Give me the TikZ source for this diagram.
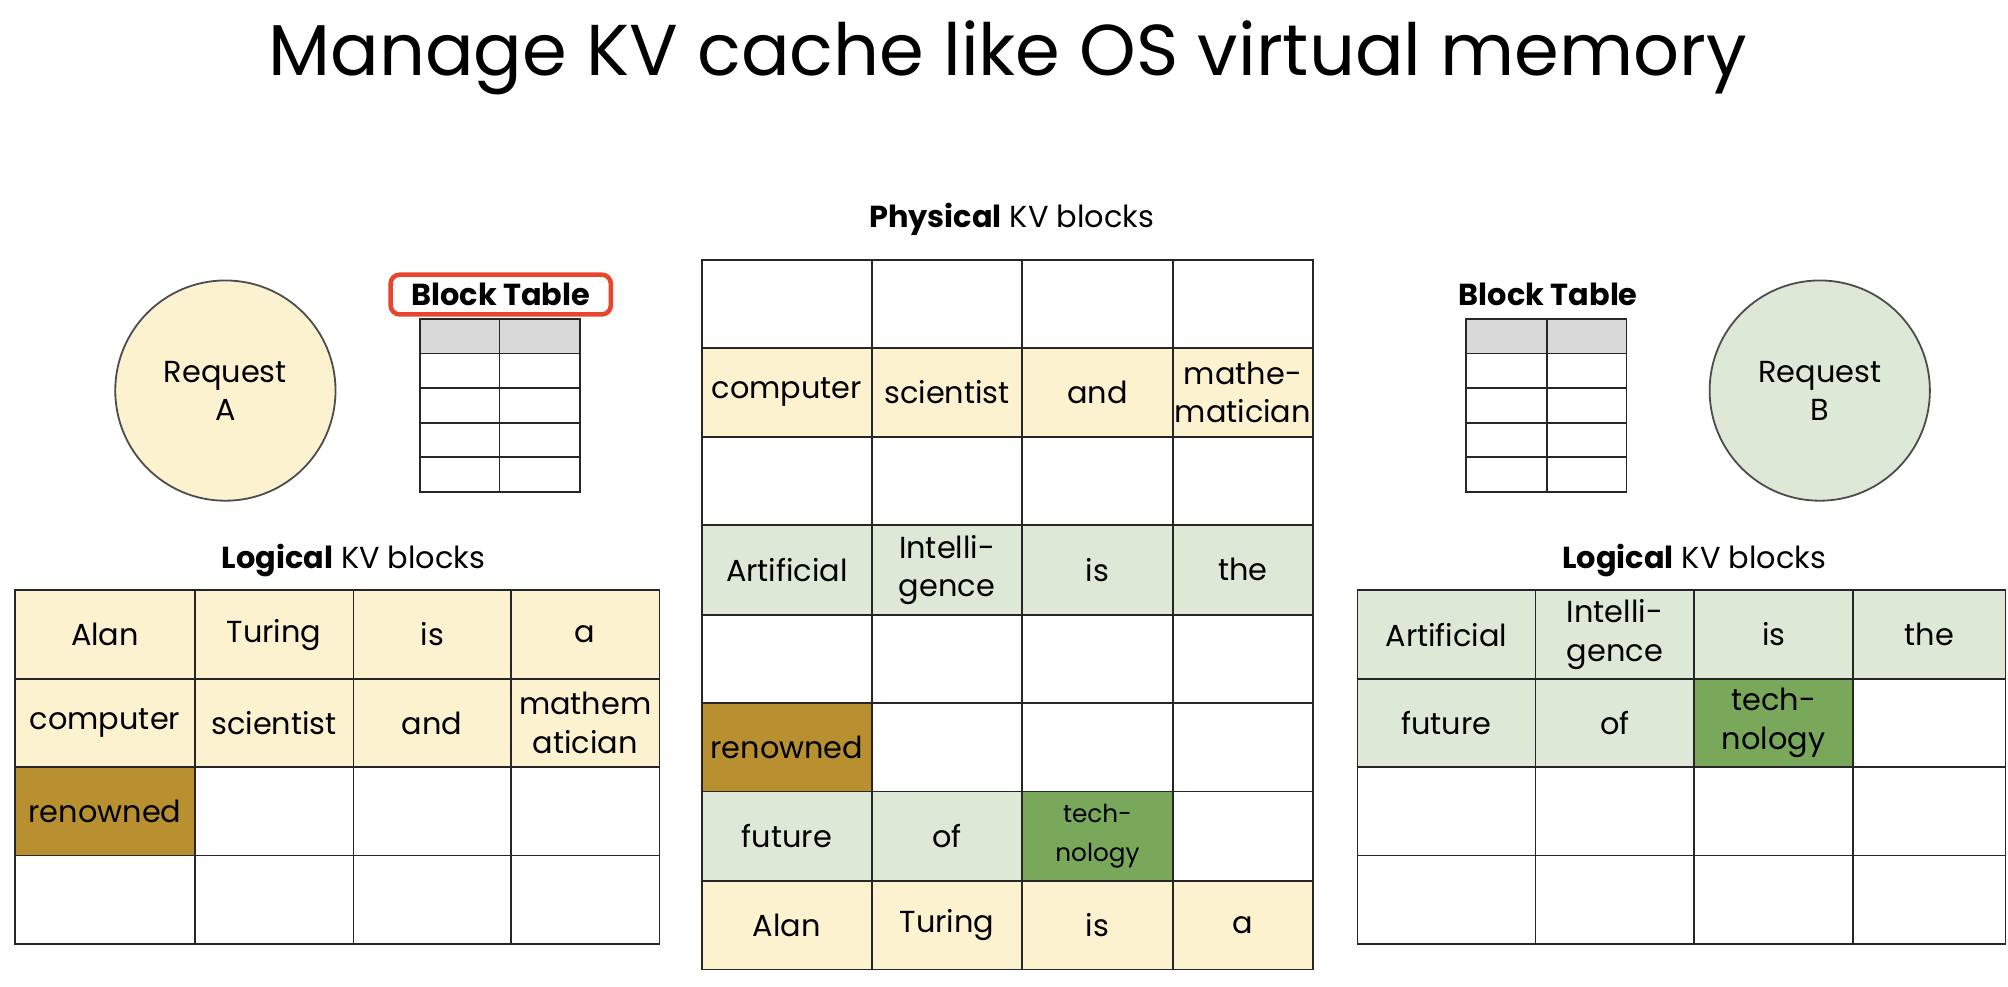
\documentclass[tikz,border=0pt]{standalone}
\usepackage{fontspec}
\setmainfont{Poppins}
\definecolor{tokA}{HTML}{FCF2D0}
\definecolor{tokB}{HTML}{DDE8D6}
\definecolor{tokAnew}{HTML}{B8902F}
\definecolor{tokBnew}{HTML}{79A85B}
\definecolor{hdrgray}{HTML}{D9D9D9}
\definecolor{markred}{HTML}{E8452C}
\newcommand\cellfont{\fontsize{13.5}{17}\selectfont}
\newcommand\smallcell{\fontsize{11}{14}\selectfont}
% one row of cells: prefix, top, bottom, list of left/right/text/fill
\newcommand\kvrow[4]{%
  \foreach \xa/\xb/\t/\f [count=\i] in {#4}
    \node[cell, fill=\f, minimum width={(\xb-\xa)*0.02cm}, minimum height={(#3-#2)*0.02cm}]
      (#1-\i) at ({(\xa+\xb)/2},{(#2+#3)/2}) {\t};}
\begin{document}
\begin{tikzpicture}[x=0.02cm, y=-0.02cm]
    \tikzset{cell/.style={draw=black!85, line width=0.8pt, inner sep=0pt, align=center, font=\cellfont}}
    \tikzset{label/.style={font=\cellfont}}
    \tikzset{request/.style={circle, draw=black!70, line width=0.8pt, minimum size=172*0.02cm, align=center, font=\cellfont}}
    \tikzset{slot/.style={draw=black!85, line width=0.8pt, minimum width=62*0.02cm, minimum height=27*0.02cm, inner sep=0pt}}
    \useasboundingbox (0,0) rectangle (1568,770);

% title
    \node[font=\fontsize{32}{38}\selectfont] (title) at (787,45) {Manage KV cache like OS virtual memory};

% physical KV blocks
    \node[label] (phys) at (790,171) {\textbf{Physical} KV blocks};
    \kvrow{p0}{203}{272}{548/681/{}/white, 681/798/{}/white, 798/916/{}/white, 916/1025/{}/white}
    \kvrow{p1}{272}{341}{548/681/computer/tokA, 681/798/scientist/tokA, 798/916/and/tokA, 916/1025/{mathe-\\matician}/tokA}
    \kvrow{p2}{341}{410}{548/681/{}/white, 681/798/{}/white, 798/916/{}/white, 916/1025/{}/white}
    \kvrow{p3}{410}{480}{548/681/Artificial/tokB, 681/798/{Intelli-\\gence}/tokB, 798/916/is/tokB, 916/1025/the/tokB}
    \kvrow{p4}{480}{549}{548/681/{}/white, 681/798/{}/white, 798/916/{}/white, 916/1025/{}/white}
    \kvrow{p5}{549}{618}{548/681/renowned/tokAnew, 681/798/{}/white, 798/916/{}/white, 916/1025/{}/white}
    \kvrow{p6}{618}{688}{548/681/future/tokB, 681/798/of/tokB, 798/916/{\smallcell tech-\\\smallcell nology}/tokBnew, 916/1025/{}/white}
    \kvrow{p7}{688}{757}{548/681/Alan/tokA, 681/798/Turing/tokA, 798/916/is/tokA, 916/1025/a/tokA}

% request A side
    \node[request, fill=tokA] (reqA) at (176,305) {Request\\A};
    \node[font=\cellfont\bfseries, draw=markred, line width=2pt, rounded corners=4pt, minimum width=172*0.02cm, minimum height=31*0.02cm, inner sep=0pt] (btA) at (391,230) {Block Table};
    \foreach \r [evaluate=\r as \yc using 262.5+27*\r] in {0,...,4} {
        \ifnum\r=0 \def\sf{hdrgray}\else\def\sf{white}\fi
        \node[slot, fill=\sf] (tA-\r-1) at (359,\yc) {};
        \node[slot, fill=\sf, minimum width=63*0.02cm] (tA-\r-2) at (421.5,\yc) {};
    }
    \node[label] (logA) at (276,438) {\textbf{Logical} KV blocks};
    \kvrow{a0}{461}{530}{12/152/Alan/tokA, 152/276/Turing/tokA, 276/399/is/tokA, 399/515/a/tokA}
    \kvrow{a1}{530}{599}{12/152/computer/tokA, 152/276/scientist/tokA, 276/399/and/tokA, 399/515/{mathem\\atician}/tokA}
    \kvrow{a2}{599}{668}{12/152/renowned/tokAnew, 152/276/{}/white, 276/399/{}/white, 399/515/{}/white}
    \kvrow{a3}{668}{737}{12/152/{}/white, 152/276/{}/white, 276/399/{}/white, 399/515/{}/white}

% request B side
    \node[request, fill=tokB] (reqB) at (1421,305) {Request\\B};
    \node[font=\cellfont\bfseries] (btB) at (1209,230) {Block Table};
    \foreach \r [evaluate=\r as \yc using 262.5+27*\r] in {0,...,4} {
        \ifnum\r=0 \def\sf{hdrgray}\else\def\sf{white}\fi
        \node[slot, fill=\sf, minimum width=63*0.02cm] (tB-\r-1) at (1176.5,\yc) {};
        \node[slot, fill=\sf] (tB-\r-2) at (1239,\yc) {};
    }
    \node[label] (logB) at (1323,438) {\textbf{Logical} KV blocks};
    \kvrow{b0}{461}{530}{1060/1199/Artificial/tokB, 1199/1323/{Intelli-\\gence}/tokB, 1323/1447/is/tokB, 1447/1566/the/tokB}
    \kvrow{b1}{530}{599}{1060/1199/future/tokB, 1199/1323/of/tokB, 1323/1447/{tech-\\nology}/tokBnew, 1447/1566/{}/white}
    \kvrow{b2}{599}{668}{1060/1199/{}/white, 1199/1323/{}/white, 1323/1447/{}/white, 1447/1566/{}/white}
    \kvrow{b3}{668}{737}{1060/1199/{}/white, 1199/1323/{}/white, 1323/1447/{}/white, 1447/1566/{}/white}

\end{tikzpicture}
\end{document}
